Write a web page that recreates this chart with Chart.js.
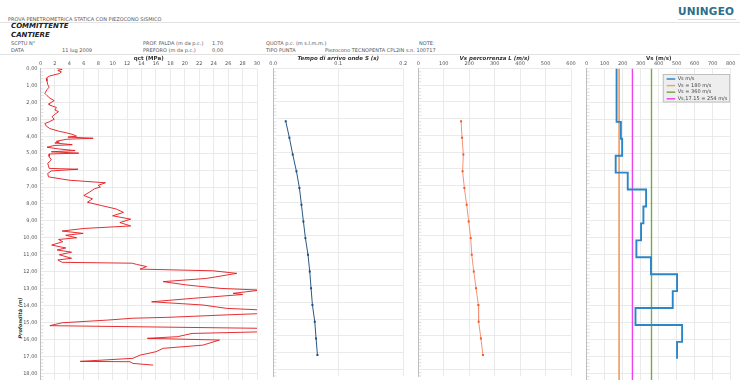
<!DOCTYPE html>
<html><head><meta charset="utf-8">
<script src="https://cdn.jsdelivr.net/npm/chart.js@4.4.0/dist/chart.umd.min.js"></script>
<style>
body{margin:0;width:740px;height:380px;position:relative;background:#fff;font-family:"DejaVu Sans",sans-serif;overflow:hidden}
canvas{position:absolute}
.t{position:absolute;font-size:5px;color:#555;white-space:nowrap;line-height:6px}
.b{font-weight:bold;font-style:italic;font-size:7px;color:#222}
.hl{position:absolute;left:0;width:740px;height:1px;background:#e2e2e2}
</style></head><body>
<div class="t" style="left:8px;top:16px">PROVA PENETROMETRICA STATICA CON PIEZOCONO SISMICO</div>
<div class="hl" style="top:22px"></div>
<div class="t b" style="left:11px;top:23px">COMMITTENTE</div>
<div class="t b" style="left:11px;top:32px">CANTIERE</div>
<div class="t" style="left:11px;top:40px">SCPTU N°</div>
<div class="t" style="left:143px;top:40px">PROF. FALDA (m da p.c.)</div>
<div class="t" style="left:212px;top:40px">1,70</div>
<div class="t" style="left:266px;top:40px">QUOTA p.c. (m s.l.m.m.)</div>
<div class="t" style="left:419px;top:40px">NOTE:</div>
<div class="t" style="left:11px;top:47px">DATA</div>
<div class="t" style="left:62px;top:47px">11 lug 2009</div>
<div class="t" style="left:143px;top:47px">PREFORO (m da p.c.)</div>
<div class="t" style="left:212px;top:47px">0,00</div>
<div class="t" style="left:266px;top:47px">TIPO PUNTA</div>
<div class="t" style="left:325px;top:47px">Piezocono TECNOPENTA CPL2IN s.n. 100717</div>
<div class="hl" style="top:54px"></div>
<div style="position:absolute;left:678px;top:5px;font:bold 10.5px 'DejaVu Sans',sans-serif;color:#2c6e8c;letter-spacing:0.2px">UNINGEO</div>
<div style="position:absolute;left:678px;top:19px;width:58px;height:1px;background:#cfdde4"></div>
<div class="t" style="top:318px;transform:translate(-50%,-50%) rotate(-90deg);transform-origin:center;position:absolute;left:20px;font-weight:bold;font-style:italic;color:#333">Profondità (m)</div>
<canvas id="c1" style="left:0;top:52px" width="262" height="328"></canvas>
<canvas id="c2" style="left:262px;top:52px" width="146" height="328"></canvas>
<canvas id="c3" style="left:408px;top:52px" width="168" height="328"></canvas>
<canvas id="c4" style="left:576px;top:52px" width="164" height="328"></canvas>
<script>
// ---------- data ----------
const qctDepth = [0.00,0.05,0.12,0.20,0.30,0.45,0.58,0.75,0.95,1.10,1.25,1.47,1.60,1.75,1.90,2.05,2.15,2.30,2.45,2.55,2.70,2.85,3.00,3.15,3.25,3.40,3.55,3.70,3.80,3.90,4.00,4.05,4.12,4.18,4.30,4.35,4.40,4.50,4.55,4.65,4.75,4.85,4.92,5.00,5.05,5.20,5.40,5.60,5.90,5.95,6.05,6.20,6.40,6.60,6.75,6.90,7.00,7.10,7.30,7.50,7.70,7.90,8.10,8.30,8.50,8.70,8.90,9.10,9.30,9.45,9.60,9.74,9.85,10.00,10.10,10.23,10.43,10.60,10.72,10.85,11.00,11.21,11.31,11.45,11.50,11.57,11.70,11.85,11.95,12.10,12.40,12.59,12.79,12.99,13.09,13.28,13.35,13.58,13.78,13.97,14.17,14.27,14.47,14.55,14.70,14.75,14.86,15.02,15.19,15.35,15.55,15.65,15.84,15.94,16.04,16.34,16.53,16.73,16.93,17.12,17.30,17.32,17.42,17.52];
const qctValue = [2.3,3.0,2.4,2.9,2.6,1.2,0.8,0.9,1.0,1.2,0.9,0.6,0.9,1.3,1.9,1.3,1.2,2.2,2.0,2.5,2.0,1.6,1.9,1.2,0.6,0.8,1.3,2.5,3.6,4.5,5.0,3.8,7.3,3.6,2.2,2.6,2.0,4.4,1.9,0.9,2.5,4.8,1.5,5.3,1.2,1.2,1.5,1.0,1.2,5.2,1.5,1.0,1.1,4.0,9.0,8.0,8.3,7.5,6.8,6.0,7.2,6.5,8.5,10.5,11.5,10.0,12.5,11.0,12.5,6.0,3.0,5.9,3.5,5.0,2.5,3.1,1.55,3.5,2.3,4.3,2.6,4.3,2.4,3.0,12.7,13.3,14.7,13.8,23.9,27.2,23.0,17.0,20.3,25.0,30.5,26.7,28.0,21.0,15.4,22.5,25.8,31.0,31.0,26.0,17.5,12.8,9.3,3.0,1.3,31.0,31.0,21.0,19.0,14.8,24.8,22.5,17.0,16.0,13.8,12.8,5.5,12.4,12.8,15.6];

const shotDepth = [3.15,4.15,5.15,6.15,7.15,8.15,9.15,10.15,11.15,12.15,13.15,14.15,15.15,16.15,17.15];
const arrivalTime = [0.0191,0.0248,0.0299,0.0356,0.0402,0.0433,0.0463,0.0494,0.0534,0.0561,0.0581,0.0602,0.0638,0.0658,0.0679];
const vsTravel = [168,172,177,174,181,190,198,206,210,218,227,236,237,246,254];

const layerTop = [0,3.15,4.15,5.15,6.15,7.15,8.15,9.15,10.15,11.15,12.15,13.15,14.15,15.15,16.15];
const layerBottom = [3.15,4.15,5.15,6.15,7.15,8.15,9.15,10.15,11.15,12.15,13.15,14.15,15.15,16.15,17.15];
const vsLayer = [166,190,197,161,228,330,315,302,276,357,502,478,271,530,502];
const refVs = [180,360,254];
const refLabels = ['Vs = 180 m/s','Vs = 360 m/s','Vs,17.15 = 254 m/s'];
const refColors = ['#f3a46c','#74ab48','#ee44ee'];

const depthMax = 18.4;
// ---------- helpers ----------
Chart.defaults.font.family = "'DejaVu Sans', sans-serif";
Chart.defaults.font.size = 5;
Chart.defaults.color = '#555';
Chart.defaults.animation = false;

const minorTicks = {
  id:'minorTicks',
  afterDraw(chart){
    const {ctx, chartArea:a, scales:{y}} = chart;
    ctx.save(); ctx.strokeStyle='#c8c8c8'; ctx.lineWidth=0.6;
    for(let i=0;i<=Math.floor(depthMax*5);i++){
      const py = y.getPixelForValue(i/5);
      ctx.beginPath(); ctx.moveTo(a.left, py); ctx.lineTo(a.left+ (i%5===0?0:3), py); ctx.stroke();
    }
    ctx.restore();
  }
};

function panel(id, leftW, rightPad, xMin, xMax, xStep, title, titleStyle, datasets, showY, xFmt, extraPlugins){
  return new Chart(document.getElementById(id), {
    type:'scatter',
    data:{datasets},
    options:{
      responsive:false, maintainAspectRatio:false,
      layout:{padding:{top:0,bottom:0,left:0,right:rightPad}},
      plugins:{legend:{display:false}, tooltip:{enabled:false}},
      scales:{
        x:{position:'top', min:xMin, max:xMax,
          ticks:{stepSize:xStep, padding:1.5, color:'#555', maxRotation:0, autoSkip:false, callback:xFmt},
          grid:{color:'#e4e4e4', drawTicks:false, lineWidth:0.8},
          border:{display:false},
          title:{display:true, text:title, color:'#333', font:{size:5.5, weight:'bold', style:titleStyle}, padding:{top:3,bottom:0}},
          afterFit(s){ s.height = 16.5; s.paddingLeft=0; s.paddingRight=0; }
        },
        y:{reverse:true, min:0, max:depthMax,
          ticks:{stepSize:1, includeBounds:false, display:showY, padding:3, color:'#555',
            callback:v=>Number(v).toFixed(2).replace('.',',')},
          grid:{color:'#e4e4e4', drawTicks:false, lineWidth:0.8},
          border:{display:true, color:'#bdbdbd', width:1},
          afterFit(s){ s.width = leftW; s.paddingTop=0; s.paddingBottom=0; }
        }
      }
    },
    plugins:[minorTicks].concat(extraPlugins||[])
  });
}

// panel 1: qct
panel('c1', 40.5, 5, 0, 30, 2, 'qct (MPa)', 'normal', [{
  data: qctDepth.map((d,i)=>({x:qctValue[i], y:d})),
  showLine:true, borderColor:'#e3171b', borderWidth:0.9, pointRadius:0, tension:0
}], true, v=>String(v));

// panel 2: arrival time
panel('c2', 11.3, 4.7, 0, 0.2, 0.1, 'Tempo di arrivo onde S (s)', 'italic', [{
  data: shotDepth.map((d,i)=>({x:arrivalTime[i], y:d})),
  showLine:true, borderColor:'#2a5783', borderWidth:1, pointStyle:'rect', pointRadius:1.4,
  backgroundColor:'#1f4e79', pointBorderWidth:0
}], false, v=>Number(v).toFixed(1));

// panel 3: Vs travel
panel('c3', 10.3, 5, 0, 600, 100, 'Vs percorrenza L (m/s)', 'italic', [{
  data: shotDepth.map((d,i)=>({x:vsTravel[i], y:d})),
  showLine:true, borderColor:'#f29478', borderWidth:1, pointStyle:'rect', pointRadius:1.4,
  backgroundColor:'#f05a28', pointBorderWidth:0
}], false, v=>String(v));

// panel 4: Vs
const stepData = [];
vsLayer.forEach((v,i)=>{ stepData.push({x:v,y:layerTop[i]}); stepData.push({x:v,y:layerBottom[i]}); });
const ds4 = [{label:'Vs m/s', data:stepData, showLine:true, borderColor:'#2a86c8', borderWidth:1.9, pointRadius:0, tension:0}];
refVs.forEach((v,i)=>ds4.push({label:refLabels[i], data:[{x:v,y:0},{x:v,y:depthMax}], showLine:true,
  borderColor:refColors[i], borderWidth:i===0?1.8:1.4, pointRadius:0}));
ds4[0].order = 0; ds4[1].order=1; ds4[2].order=1; ds4[3].order=1;

const legendBox = {
  id:'legendBox',
  afterDraw(chart){
    const {ctx, chartArea:a} = chart;
    const x0 = a.right-68, y0 = a.top+5.5, w = 67.5, h = 28.5;
    ctx.save();
    ctx.fillStyle='#eeeeee'; ctx.fillRect(x0,y0,w,h);
    ctx.strokeStyle='#b5b5b5'; ctx.lineWidth=0.8; ctx.strokeRect(x0+0.5,y0+0.5,w-1,h-1);
    ctx.font = "5px 'DejaVu Sans', sans-serif"; ctx.textBaseline='middle'; ctx.fillStyle='#444';
    chart.data.datasets.forEach((d,i)=>{
      const yy = y0 + 5 + i*6.6;
      ctx.strokeStyle=d.borderColor; ctx.lineWidth=1.5;
      ctx.beginPath(); ctx.moveTo(x0+4,yy); ctx.lineTo(x0+12.5,yy); ctx.stroke();
      ctx.fillStyle='#444'; ctx.fillText(d.label, x0+15, yy);
    });
    ctx.restore();
  }
};
panel('c4', 10.7, 9.3, 0, 800, 100, 'Vs (m/s)', 'normal', ds4, false, v=>String(v), [legendBox]);
</script>
</body></html>
